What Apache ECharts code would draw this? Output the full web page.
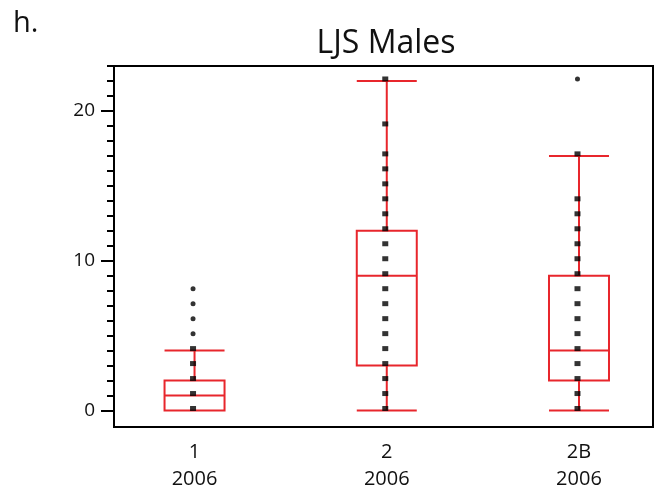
<!DOCTYPE html>
<html>
<head>
<meta charset="utf-8">
<script src="https://cdn.jsdelivr.net/npm/echarts@6/dist/echarts.min.js"></script>
<style>
  html, body { margin: 0; padding: 0; background: #fff; }
  #chart { width: 661px; height: 494px; }
</style>
</head>
<body>
<div id="chart"></div>
<script>
// Sampling sites and year of each group
const sites = ['1', '2', '2B'];
const years = ['2006', '2006', '2006'];

// Box summaries per site: [lower whisker, Q1, median, Q3, upper whisker]
const boxStats = [
  [0, 0, 1, 2, 4],
  [0, 3, 9, 12, 22],
  [0, 2, 4, 9, 17]
];

// Observed values per site
const site1Values = [0, 1, 2, 3, 4, 5, 6, 7, 8];
const site2Values = [0, 1, 2, 3, 4, 5, 6, 7, 8, 9, 10, 11, 12, 13, 14, 15, 16, 17, 19, 22];
const site2BValues = [0, 1, 2, 3, 4, 5, 6, 7, 8, 9, 10, 11, 12, 13, 14, 17, 22];

// Labelled y ticks
const yTickLabels = [0, 10, 20];

const allValues = [site1Values, site2Values, site2BValues];
const Y_MIN = -1.1, Y_MAX = 23;
const FONT = '"Open Sans", "Noto Sans", sans-serif';
const INK = '#111';
const RED = '#e8262c';

// Unlabelled unit ticks between the labelled ones
const minorTicks = [];
for (let v = 1; v <= Y_MAX; v++) {
  if (yTickLabels.indexOf(v) < 0) minorTicks.push(v);
}

// Points inside the whiskers are squares, points beyond them are dots
const inside = [], outside = [];
allValues.forEach((vals, i) => {
  const hi = boxStats[i][4];
  vals.forEach(v => {
    (v > hi ? outside : inside).push([i + 1, v]);
  });
});

const chart = echarts.init(document.getElementById('chart'), null, { renderer: 'canvas' });

chart.setOption({
  animation: false,
  backgroundColor: '#fff',
  graphic: [
    {
      type: 'text', x: 386, y: 44, silent: true,
      style: { text: 'LJS Males', font: '32px ' + FONT, fill: INK, align: 'center', verticalAlign: 'middle' }
    },
    {
      type: 'text', x: 13, y: 24, silent: true,
      style: { text: 'h.', font: '29px ' + FONT, fill: INK, align: 'left', verticalAlign: 'middle' }
    }
  ],
  grid: {
    left: 114, right: 8, top: 66, bottom: 67,
    show: true, borderColor: '#000', borderWidth: 2, backgroundColor: 'transparent'
  },
  xAxis: {
    type: 'value',
    min: 0.581, max: 3.385,
    axisLine: { show: true, onZero: false, lineStyle: { color: '#000', width: 2 } },
    axisTick: { show: false },
    splitLine: { show: false },
    axisLabel: {
      customValues: sites.map((s, i) => i + 1),
      formatter: v => sites[v - 1] + '\n' + years[v - 1],
      margin: 12, fontSize: 20, lineHeight: 27, fontFamily: FONT, color: INK
    }
  },
  yAxis: [
    {
      type: 'value', min: Y_MIN, max: Y_MAX,
      axisLine: { show: true, onZero: false, lineStyle: { color: '#000', width: 2 } },
      axisTick: { show: true, length: 13, customValues: yTickLabels, lineStyle: { color: '#000', width: 2 } },
      axisLabel: { customValues: yTickLabels, margin: 19, fontSize: 19, fontFamily: FONT, color: INK },
      splitLine: { show: false }
    },
    {
      type: 'value', min: Y_MIN, max: Y_MAX, position: 'left',
      axisLine: { show: false, onZero: false },
      axisTick: { show: true, length: 7, customValues: minorTicks, lineStyle: { color: '#000', width: 2 } },
      axisLabel: { show: false },
      splitLine: { show: false }
    }
  ],
  series: [
    {
      type: 'boxplot',
      silent: true,
      data: boxStats.map((s, i) => [i + 1].concat(s)),
      boxWidth: [60, 60],
      itemStyle: { color: 'rgba(0,0,0,0)', borderColor: RED, borderWidth: 2 },
      emphasis: { disabled: true },
      z: 2
    },
    {
      type: 'scatter',
      silent: true,
      data: inside,
      symbol: 'rect',
      symbolSize: [6, 5],
      symbolOffset: [-1.5, -2],
      itemStyle: { color: '#000' },
      z: 3
    },
    {
      type: 'scatter',
      silent: true,
      data: outside,
      symbol: 'circle',
      symbolSize: 5,
      symbolOffset: [-1.5, -2],
      itemStyle: { color: '#000' },
      z: 3
    }
  ]
});
</script>
</body>
</html>
